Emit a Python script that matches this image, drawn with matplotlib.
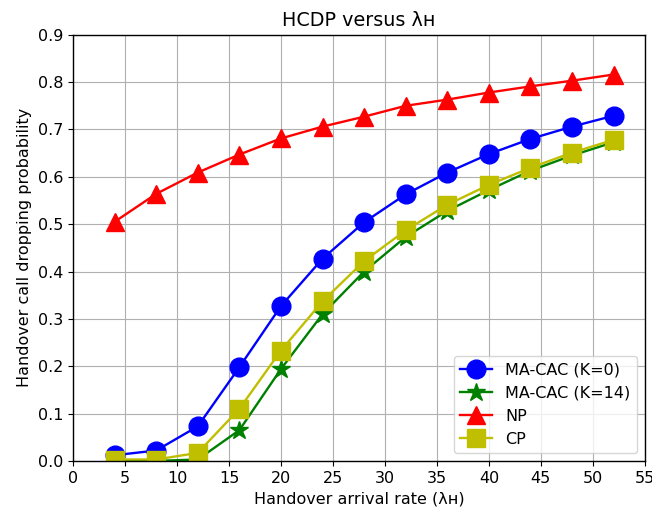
import matplotlib
matplotlib.use("Agg")
import matplotlib.pyplot as plt

x = [4, 8, 12, 16, 20, 24, 28, 32, 36, 40, 44, 48, 52]
ma_cac_k0 = [0.012, 0.022, 0.073, 0.198, 0.327, 0.427, 0.504, 0.563, 0.609, 0.648, 0.680, 0.706, 0.729]
ma_cac_k14 = [0.0, 0.0, 0.003, 0.065, 0.194, 0.310, 0.400, 0.473, 0.528, 0.572, 0.613, 0.645, 0.673]
np_vals = [0.505, 0.564, 0.609, 0.647, 0.681, 0.706, 0.727, 0.750, 0.763, 0.778, 0.791, 0.803, 0.816]
cp_vals = [0.003, 0.003, 0.017, 0.110, 0.233, 0.337, 0.422, 0.487, 0.541, 0.583, 0.619, 0.651, 0.678]

plt.rcParams['font.size'] = 11.5
plt.rcParams['axes.titlesize'] = 13.8
plt.rcParams['lines.linewidth'] = 1.7
plt.rcParams['axes.linewidth'] = 1.0

fig = plt.figure(figsize=(6.52, 5.11), dpi=100)
ax = fig.add_axes([0.112, 0.098, 0.877, 0.834])

ms = 13.5
ax.plot(x, ma_cac_k0, 'b-o', markersize=ms, label='MA-CAC (K=0)')
ax.plot(x, ma_cac_k14, 'g-*', markersize=ms, label='MA-CAC (K=14)')
ax.plot(x, np_vals, 'r-^', markersize=ms, label='NP')
ax.plot(x, cp_vals, 'y-s', markersize=ms, label='CP')

ax.set_xlim(0, 55)
ax.set_ylim(0, 0.9)
ax.set_xticks(range(0, 56, 5))
ax.set_yticks([i / 10 for i in range(10)])
ax.grid(True)
ax.set_title('HCDP versus λʜ')
ax.set_xlabel('Handover arrival rate (λʜ)')
ax.set_ylabel('Handover call dropping probability')
ax.legend(loc='lower right')

fig.savefig('out.png', dpi=100)
